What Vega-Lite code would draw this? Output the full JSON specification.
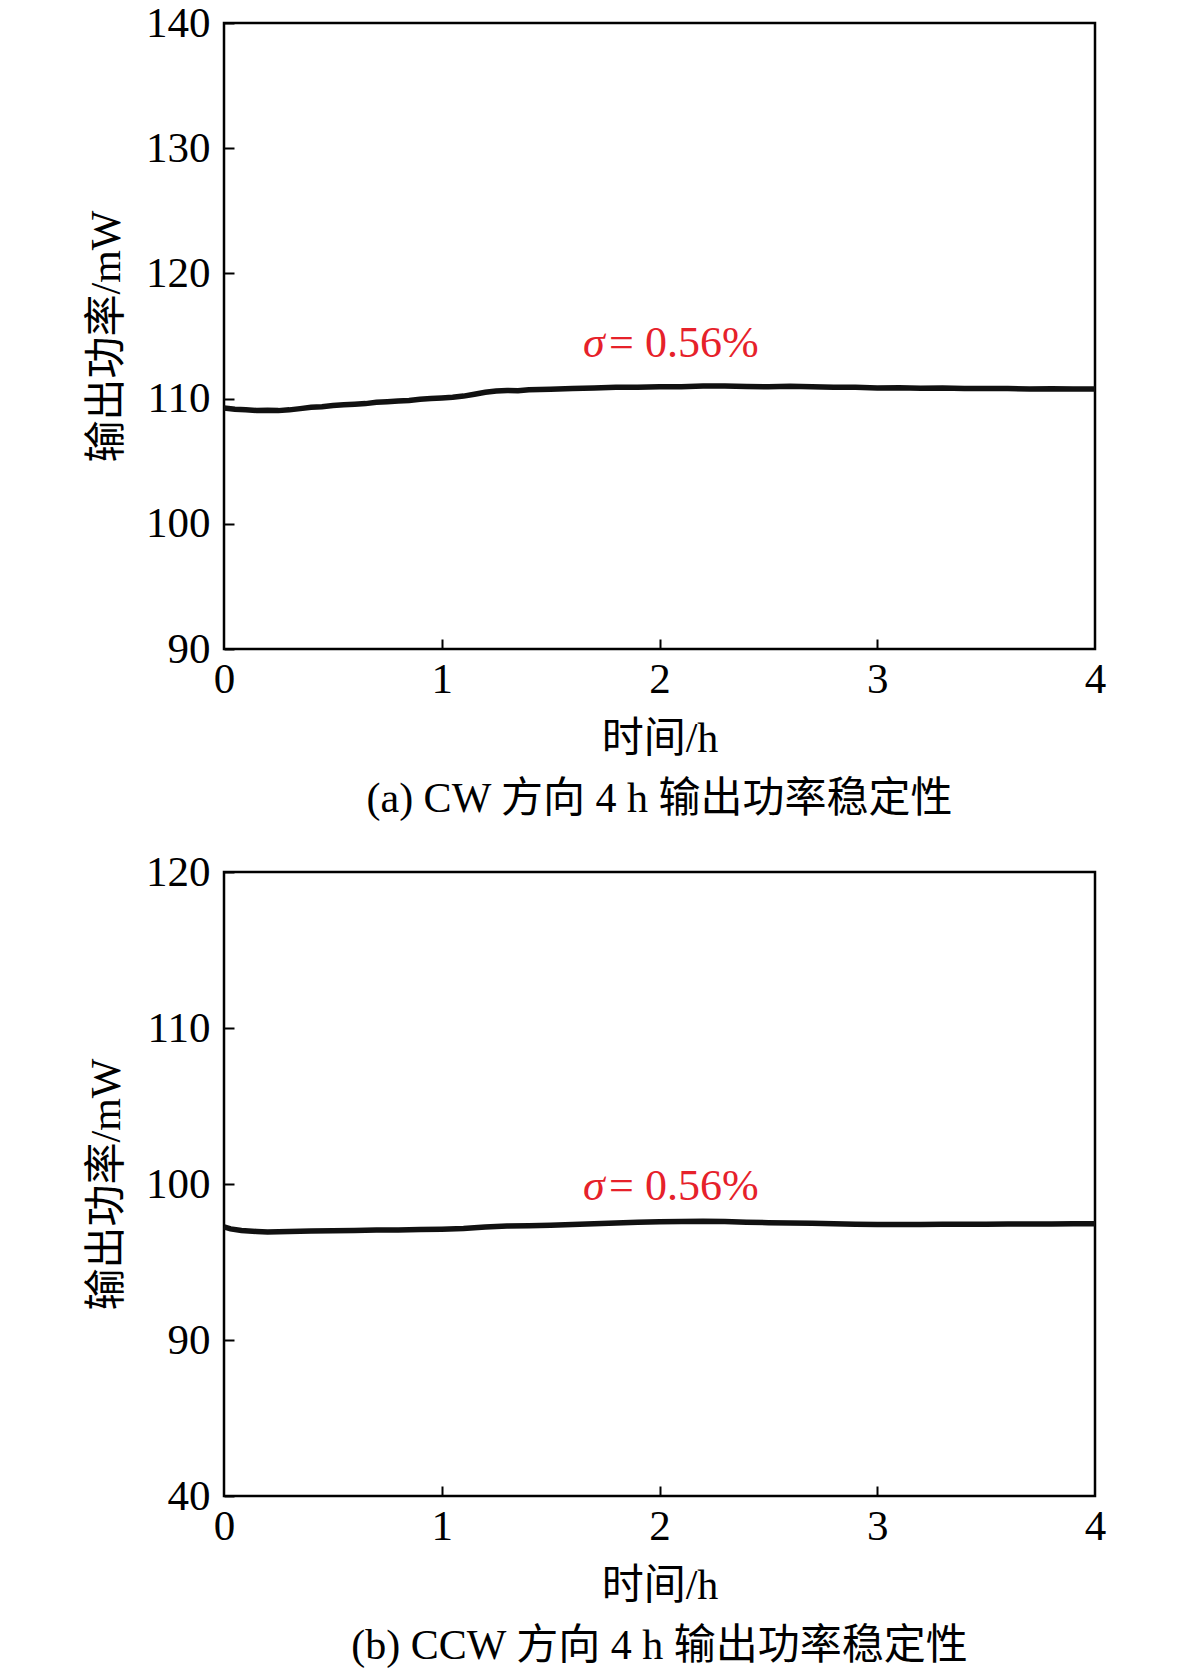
{
  "$schema": "https://vega.github.io/schema/vega-lite/v6.json",
  "background": "white",
  "padding": {"left": 84, "top": 0, "right": 10, "bottom": 5},
  "spacing": 27,
  "config": {
    "font": "Liberation Serif, Noto Sans CJK SC",
    "view": {"stroke": "black", "strokeWidth": 2.5},
    "axis": {
      "domain": false,
      "grid": false,
      "tickColor": "black",
      "tickWidth": 2,
      "labelFont": "Liberation Serif",
      "labelFontSize": 43,
      "labelColor": "black",
      "titleFont": "Liberation Serif, Noto Sans CJK SC",
      "titleFontSize": 42,
      "titleFontWeight": "normal",
      "titleColor": "black",
      "labelFlush": false,
      "format": "d"
    },
    "title": {
      "orient": "bottom",
      "font": "Liberation Serif, Noto Sans CJK SC",
      "fontSize": 42,
      "fontWeight": "normal",
      "color": "black",
      "offset": 20
    }
  },
  "datasets": {
    "a": [
      {"t": 0, "p": 109.25}, {"t": 0.05, "p": 109.15}, {"t": 0.1, "p": 109.1}, {"t": 0.15, "p": 109.05},
      {"t": 0.2, "p": 109.06}, {"t": 0.25, "p": 109.04}, {"t": 0.3, "p": 109.1}, {"t": 0.35, "p": 109.2},
      {"t": 0.4, "p": 109.3}, {"t": 0.45, "p": 109.35}, {"t": 0.5, "p": 109.45}, {"t": 0.55, "p": 109.5},
      {"t": 0.6, "p": 109.55}, {"t": 0.65, "p": 109.6}, {"t": 0.7, "p": 109.7}, {"t": 0.75, "p": 109.75},
      {"t": 0.8, "p": 109.8}, {"t": 0.85, "p": 109.85}, {"t": 0.9, "p": 109.95}, {"t": 0.95, "p": 110.0},
      {"t": 1.0, "p": 110.05}, {"t": 1.05, "p": 110.1}, {"t": 1.1, "p": 110.2}, {"t": 1.15, "p": 110.35},
      {"t": 1.2, "p": 110.5}, {"t": 1.25, "p": 110.6}, {"t": 1.3, "p": 110.65}, {"t": 1.35, "p": 110.62},
      {"t": 1.4, "p": 110.7}, {"t": 1.5, "p": 110.75}, {"t": 1.6, "p": 110.8}, {"t": 1.7, "p": 110.85},
      {"t": 1.8, "p": 110.9}, {"t": 1.9, "p": 110.9}, {"t": 2.0, "p": 110.95}, {"t": 2.1, "p": 110.95},
      {"t": 2.2, "p": 111.0}, {"t": 2.3, "p": 111.0}, {"t": 2.4, "p": 110.96}, {"t": 2.5, "p": 110.95},
      {"t": 2.6, "p": 110.98}, {"t": 2.7, "p": 110.95}, {"t": 2.8, "p": 110.9}, {"t": 2.9, "p": 110.9},
      {"t": 3.0, "p": 110.85}, {"t": 3.1, "p": 110.86}, {"t": 3.2, "p": 110.82}, {"t": 3.3, "p": 110.84},
      {"t": 3.4, "p": 110.8}, {"t": 3.5, "p": 110.8}, {"t": 3.6, "p": 110.81}, {"t": 3.7, "p": 110.77},
      {"t": 3.8, "p": 110.79}, {"t": 3.9, "p": 110.76}, {"t": 4.0, "p": 110.76}
    ],
    "b": [
      {"t": 0, "p": 97.25}, {"t": 0.03, "p": 97.12}, {"t": 0.08, "p": 97.02}, {"t": 0.15, "p": 96.96},
      {"t": 0.2, "p": 96.93}, {"t": 0.3, "p": 96.95}, {"t": 0.4, "p": 96.98}, {"t": 0.5, "p": 97.0},
      {"t": 0.6, "p": 97.02}, {"t": 0.7, "p": 97.05}, {"t": 0.8, "p": 97.05}, {"t": 0.9, "p": 97.08},
      {"t": 1.0, "p": 97.1}, {"t": 1.1, "p": 97.15}, {"t": 1.2, "p": 97.25}, {"t": 1.3, "p": 97.3},
      {"t": 1.4, "p": 97.32}, {"t": 1.5, "p": 97.35}, {"t": 1.6, "p": 97.4}, {"t": 1.7, "p": 97.45},
      {"t": 1.8, "p": 97.5}, {"t": 1.9, "p": 97.55}, {"t": 2.0, "p": 97.58}, {"t": 2.1, "p": 97.6},
      {"t": 2.2, "p": 97.62}, {"t": 2.3, "p": 97.6}, {"t": 2.4, "p": 97.55}, {"t": 2.5, "p": 97.52},
      {"t": 2.6, "p": 97.5}, {"t": 2.7, "p": 97.48}, {"t": 2.8, "p": 97.45}, {"t": 2.9, "p": 97.42},
      {"t": 3.0, "p": 97.4}, {"t": 3.1, "p": 97.4}, {"t": 3.2, "p": 97.4}, {"t": 3.3, "p": 97.42},
      {"t": 3.4, "p": 97.42}, {"t": 3.5, "p": 97.42}, {"t": 3.6, "p": 97.43}, {"t": 3.7, "p": 97.43},
      {"t": 3.8, "p": 97.44}, {"t": 3.9, "p": 97.45}, {"t": 4.0, "p": 97.45}
    ],
    "ann": [
      {"panel": "a", "t": 1.649, "p": 114.4, "s": "σ", "r": "= 0.56%"},
      {"panel": "b", "t": 1.649, "p": 99.8, "s": "σ", "r": "= 0.56%"}
    ]
  },
  "vconcat": [
    {
      "width": 871,
      "height": 626,
      "title": {"text": "(a) CW 方向 4 h 输出功率稳定性"},
      "resolve": {"axis": {"x": "independent", "y": "independent"}},
      "layer": [
        {
          "data": {"name": "a"},
          "mark": {"type": "line", "color": "#111111", "strokeWidth": 5.5},
          "encoding": {
            "x": {"field": "t", "type": "quantitative", "scale": {"domain": [0, 4], "nice": false},
                  "axis": {"title": "时间/h", "values": [0, 1, 2, 3, 4], "ticks": false, "labelPadding": 9, "titlePadding": 17}},
            "y": {"field": "p", "type": "quantitative", "scale": {"domain": [90, 140], "nice": false, "zero": false},
                  "axis": {"title": "输出功率/mW", "values": [90, 100, 110, 120, 130, 140], "ticks": false, "labelPadding": 14, "titlePadding": 17}}
          }
        },
        {
          "data": {"name": "ann"},
          "transform": [{"filter": "datum.panel == 'a'"}],
          "mark": {"type": "text", "color": "#e6212a", "fontSize": 44, "fontStyle": "italic", "align": "left", "baseline": "middle", "font": "Liberation Serif"},
          "encoding": {
            "x": {"field": "t", "type": "quantitative",
                  "axis": {"orient": "bottom", "offset": -10, "values": [1, 2, 3], "labels": false, "title": null, "tickSize": 10, "ticks": true}},
            "y": {"field": "p", "type": "quantitative",
                  "axis": {"orient": "left", "offset": -10, "values": [90, 100, 110, 120, 130, 140], "labels": false, "title": null, "tickSize": 10, "ticks": true}},
            "text": {"field": "s"}
          }
        },
        {
          "data": {"name": "ann"},
          "transform": [{"filter": "datum.panel == 'a'"}],
          "mark": {"type": "text", "color": "#e6212a", "fontSize": 44, "align": "left", "baseline": "middle", "dx": 26, "font": "Liberation Serif"},
          "encoding": {
            "x": {"field": "t", "type": "quantitative", "axis": null},
            "y": {"field": "p", "type": "quantitative", "axis": null},
            "text": {"field": "r"}
          }
        }
      ]
    },
    {
      "width": 871,
      "height": 624,
      "title": {"text": "(b) CCW 方向 4 h 输出功率稳定性"},
      "resolve": {"axis": {"x": "independent", "y": "independent"}},
      "layer": [
        {
          "data": {"name": "b"},
          "mark": {"type": "line", "color": "#111111", "strokeWidth": 5.5},
          "encoding": {
            "x": {"field": "t", "type": "quantitative", "scale": {"domain": [0, 4], "nice": false},
                  "axis": {"title": "时间/h", "values": [0, 1, 2, 3, 4], "ticks": false, "labelPadding": 9, "titlePadding": 17}},
            "y": {"field": "p", "type": "quantitative", "scale": {"domain": [80, 120], "nice": false, "zero": false},
                  "axis": {"title": "输出功率/mW", "values": [80, 90, 100, 110, 120], "ticks": false, "labelPadding": 14, "titlePadding": 17,
                           "labelExpr": "datum.value == 80 ? '40' : datum.label"}}
          }
        },
        {
          "data": {"name": "ann"},
          "transform": [{"filter": "datum.panel == 'b'"}],
          "mark": {"type": "text", "color": "#e6212a", "fontSize": 44, "fontStyle": "italic", "align": "left", "baseline": "middle", "font": "Liberation Serif"},
          "encoding": {
            "x": {"field": "t", "type": "quantitative",
                  "axis": {"orient": "bottom", "offset": -10, "values": [1, 2, 3], "labels": false, "title": null, "tickSize": 10, "ticks": true}},
            "y": {"field": "p", "type": "quantitative",
                  "axis": {"orient": "left", "offset": -10, "values": [80, 90, 100, 110, 120], "labels": false, "title": null, "tickSize": 10, "ticks": true}},
            "text": {"field": "s"}
          }
        },
        {
          "data": {"name": "ann"},
          "transform": [{"filter": "datum.panel == 'b'"}],
          "mark": {"type": "text", "color": "#e6212a", "fontSize": 44, "align": "left", "baseline": "middle", "dx": 26, "font": "Liberation Serif"},
          "encoding": {
            "x": {"field": "t", "type": "quantitative", "axis": null},
            "y": {"field": "p", "type": "quantitative", "axis": null},
            "text": {"field": "r"}
          }
        }
      ]
    }
  ]
}
